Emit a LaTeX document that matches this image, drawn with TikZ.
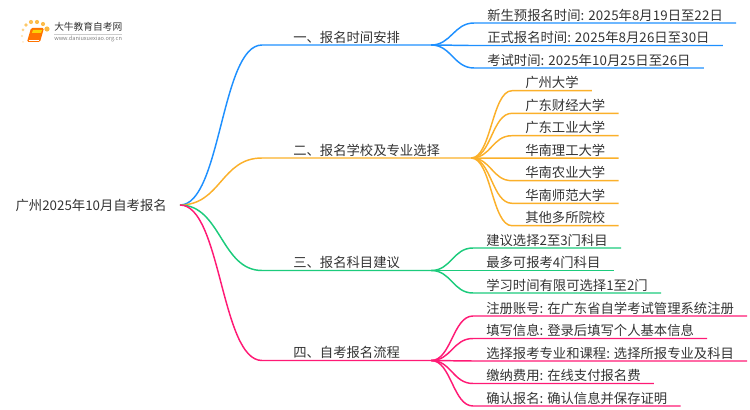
\documentclass[tikz,border=0pt]{standalone}
\usepackage{fontspec}
\setmainfont{Noto Sans CJK SC}
\newfontfamily\numfont[LetterSpace=2]{Noto Sans CJK SC}
\newcommand{\dg}[1]{{\numfont #1}}
\usetikzlibrary{positioning}
\definecolor{txt}{HTML}{333333}
\definecolor{bluebr}{HTML}{1E90FF}
\definecolor{orangebr}{HTML}{FBB02A}
\definecolor{greenbr}{HTML}{1CCB7C}
\definecolor{pinkbr}{HTML}{FF1A75}
\tikzset{
  rootnode/.style={anchor=east,inner xsep=9.75pt,inner ysep=2pt,text depth=0pt,font=\fontsize{10pt}{12pt}\selectfont,text=txt},
  secnode/.style={anchor=south west,inner xsep=23.25pt,inner ysep=1.9pt,text depth=0pt,font=\fontsize{10pt}{12pt}\selectfont,text=txt},
  subnode/.style={anchor=south west,inner xsep=9.75pt,inner ysep=1.9pt,text depth=0pt,font=\fontsize{10pt}{12pt}\selectfont,text=txt},
  branch/.style={line width=1.1pt,#1},
}
\newcommand{\secline}[2]{% #1 = name , #2 = colour
  \draw[branch=#2] (root.east) .. controls +(41,0) and +(-41,0) .. (#1.south west) -- (#1.south east);
}
\newcommand{\subline}[3]{% #1 = parent , #2 = child , #3 = colour
  \draw[branch=#3] (#1.south east) .. controls +(20,0) and +(-20,0) .. (#2.south west) -- (#2.south east);
}
\begin{document}
\begin{tikzpicture}[x=0.75pt,y=-0.75pt]
  \useasboundingbox (0,0) rectangle (750,410);
  % logo
  \foreach \x/\y/\r/\o in {23/42/1/0.25,22/36/1.2/0.4,23/30/1.5/0.55,26/25/1.9/0.7,31/22/2.1/0.8,37/22/2.1/0.85,43/24/2.1/0.85,47/29/2.6/0.9}
    \fill[orangebr,opacity=\o] (\x,\y) circle (\r);
  \fill[rounded corners=1pt,orange!90!red] (31,28) -- (44,28) -- (40,42) -- (27,42) -- cycle;
  \fill[yellow!70!orange] (33,30) -- (42,30) -- (41,33) -- (32,33) -- cycle;
  \draw[white,line width=0.5pt] (28.5,40) -- (39,40);
  \node[anchor=west,inner sep=0,text=txt,font=\fontsize{7.3pt}{8pt}\selectfont] (logoname) at (54,27) {大牛教育自考网};
  \node[anchor=west,inner sep=0,text=gray,font=\fontsize{4.2pt}{6pt}\selectfont] (logourl) at (54,38.5) {www.daniuxuexiao.org.cn};
  \draw[gray!40,line width=0.4pt] (logoname.south west) ++(0,2) -- ++(68,0);
  % root and sections
  \node[rootnode] (root) at (180,205) {广州2025年10月自考报名};
  \node[secnode] (sec1) at (262,45) {一、报名时间安排};
  \node[secnode] (sec2) at (262,158) {二、报名学校及专业选择};
  \node[secnode] (sec3) at (262,270.5) {三、报名科目建议};
  \node[secnode] (sec4) at (262,360.5) {四、自考报名流程};
  % dates
  \node[subnode] (date1) at (474,23) {新生预报名时间: \dg{2025}年\dg{8}月\dg{19}日至\dg{22}日};
  \node[subnode] (date2) at (474,45.5) {正式报名时间: \dg{2025}年\dg{8}月\dg{26}日至\dg{30}日};
  \node[subnode] (date3) at (474,68) {考试时间: \dg{2025}年\dg{10}月\dg{25}日至\dg{26}日};
  % schools
  \node[subnode] (uni1) at (512,90.7) {广州大学};
  \node[subnode] (uni2) at (512,113.3) {广东财经大学};
  \node[subnode] (uni3) at (512,135.7) {广东工业大学};
  \node[subnode] (uni4) at (512,158.2) {华南理工大学};
  \node[subnode] (uni5) at (512,180.7) {华南农业大学};
  \node[subnode] (uni6) at (512,203.3) {华南师范大学};
  \node[subnode] (uni7) at (512,225.7) {其他多所院校};
  % subjects
  \node[subnode] (subj1) at (473,248) {建议选择2至3门科目};
  \node[subnode] (subj2) at (473,270.5) {最多可报考4门科目};
  \node[subnode] (subj3) at (473,293) {学习时间有限可选择1至2门};
  % process
  \node[subnode] (proc1) at (473,316) {注册账号: 在广东省自学考试管理系统注册};
  \node[subnode] (proc2) at (473,338.5) {填写信息: 登录后填写个人基本信息};
  \node[subnode] (proc3) at (473,361) {选择报考专业和课程: 选择所报专业及科目};
  \node[subnode] (proc4) at (473,383.5) {缴纳费用: 在线支付报名费};
  \node[subnode] (proc5) at (473,406) {确认报名: 确认信息并保存证明};
  % connectors
  \secline{sec1}{bluebr}
  \secline{sec2}{orangebr}
  \secline{sec3}{greenbr}
  \secline{sec4}{pinkbr}
  \foreach \n in {date1,date2,date3} {\subline{sec1}{\n}{bluebr}}
  \foreach \n in {uni1,uni2,uni3,uni4,uni5,uni6,uni7} {\subline{sec2}{\n}{orangebr}}
  \foreach \n in {subj1,subj2,subj3} {\subline{sec3}{\n}{greenbr}}
  \foreach \n in {proc1,proc2,proc3,proc4,proc5} {\subline{sec4}{\n}{pinkbr}}
\end{tikzpicture}
\end{document}
